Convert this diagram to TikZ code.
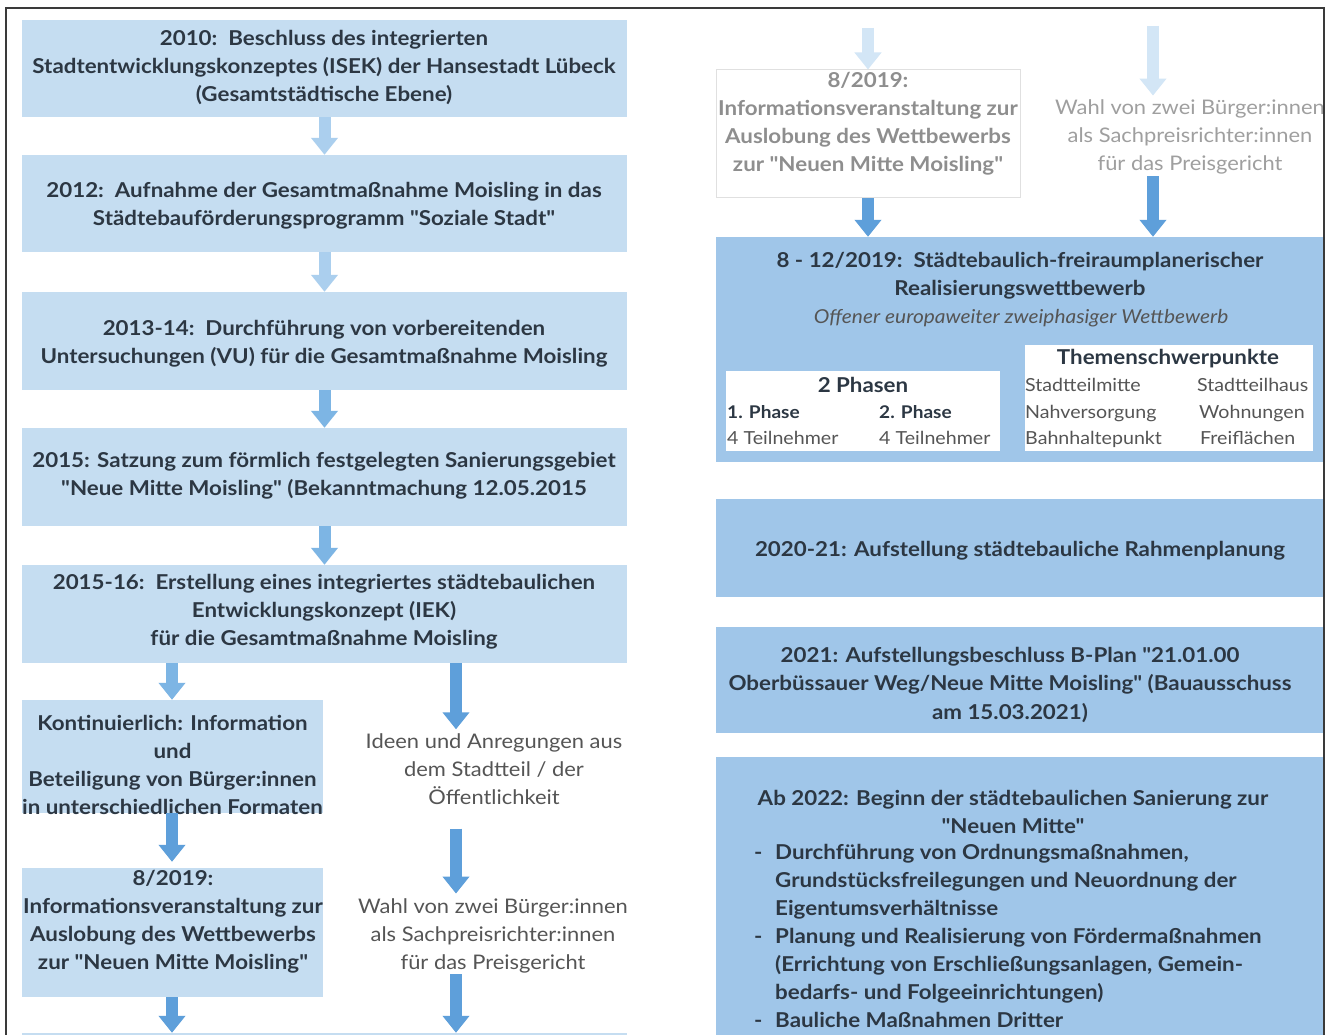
\documentclass[tikz,border=0pt]{standalone}
\usepackage{fontspec}
\setmainfont{Lato}[Ligatures=TeXOff, FakeStretch=1.09]
\usetikzlibrary{arrows.meta}
\definecolor{lboxc}{HTML}{C5DDF1}
\definecolor{rboxc}{HTML}{A0C6E9}
\definecolor{arrL}{HTML}{ABCFEE}
\definecolor{arrM}{HTML}{7DB5E4}
\definecolor{arrD}{HTML}{5E9FDA}
\definecolor{arrF}{HTML}{D3E6F6}
\definecolor{txtc}{HTML}{2C3743}
\definecolor{grayt}{HTML}{555555}
\definecolor{fadet}{HTML}{8E8E8E}
\definecolor{framec}{HTML}{3A3A3A}
\tikzset{
  lbox/.style={fill=lboxc, draw=none, inner sep=0pt},
  rbox/.style={fill=rboxc, draw=none, inner sep=0pt},
  wbox/.style={fill=white, draw=none, inner sep=0pt},
  fbox/.style={fill=white, draw=black!12, line width=1pt, inner sep=0pt},
  bt/.style={font=\fontsize{20.5}{28}\selectfont\bfseries, align=center, text=txtc, inner sep=0pt},
  rt/.style={font=\fontsize{20.1}{28}\selectfont, align=center, text=grayt, inner sep=0pt},
  ft/.style={font=\fontsize{20.5}{28}\selectfont\bfseries, align=center, text=fadet, inner sep=0pt},
  st/.style={font=\fontsize{18}{26}\selectfont, text=grayt, inner sep=0pt, anchor=base west},
  sbt/.style={font=\fontsize{17.5}{26}\selectfont\bfseries, text=txtc, inner sep=0pt, anchor=base west},
  arr/.style={line width=12pt, -{Triangle[width=26pt,length=17pt]}},
}
\begin{document}
\begin{tikzpicture}[x=1pt,y=-1pt]
\useasboundingbox (0,0) rectangle (1326,1035);
\fill[white] (0,0) rectangle (1326,1035);

% ---------- left column boxes ----------
\node[lbox, minimum width=605, minimum height=97] (b1) at (324.5,68.5) {};
\node[lbox, minimum width=605, minimum height=97] (b2) at (324.5,203.5) {};
\node[lbox, minimum width=605, minimum height=98] (b3) at (324.5,341) {};
\node[lbox, minimum width=605, minimum height=98] (b4) at (324.5,477) {};
\node[lbox, minimum width=605, minimum height=98] (b5) at (324.5,614) {};
\node[lbox, minimum width=301, minimum height=113] (b6) at (172.5,756.5) {};
\node[lbox, minimum width=301, minimum height=129] (b7) at (172.5,932.5) {};
\node[lbox, minimum width=605, minimum height=10] (b8) at (324.5,1038) {};

\node[bt] (t1) at (324,68) {2010:\ \ Beschluss des integrierten\\Stadtentwicklungskonzeptes (ISEK) der Hansestadt Lübeck\\(Gesamtstädtische Ebene)};
\node[bt] (t2) at (324,206) {2012:\ \ Aufnahme der Gesamtmaßnahme Moisling in das\\Städtebauförderungsprogramm "Soziale Stadt"};
\node[bt] (t3) at (324,344) {2013-14:\ \ Durchführung von vorbereitenden\\Untersuchungen (VU) für die Gesamtmaßnahme Moisling};
\node[bt] (t4) at (324,476) {2015: Satzung zum förmlich festgelegten Sanierungsgebiet\\"Neue Mitte Moisling" (Bekanntmachung 12.05.2015};
\node[bt] (t5) at (324,612) {2015-16:\ \ Erstellung eines integriertes städtebaulichen\\Entwicklungskonzept (IEK)\\für die Gesamtmaßnahme Moisling};
\node[bt] (t6) at (172.5,765) {Kontinuierlich: Information\\und\\Beteiligung von Bürger:innen\\in unterschiedlichen Formaten};
\node[bt] (t7) at (173,922) {8/2019:\\Informationsveranstaltung zur\\Auslobung des Wettbewerbs\\zur "Neuen Mitte Moisling"};

\node[rt] (ideen) at (494,769) {Ideen und Anregungen aus\\dem Stadtteil / der\\Öffentlichkeit};
\node[rt] (wahl) at (493,936) {Wahl von zwei Bürger:innen\\als Sachpreisrichter:innen\\für das Preisgericht};

\coordinate (xr) at (456,0);
\coordinate (xl) at (172,0);

\draw[arr, arrL] (b1.south) -- (b2.north);
\draw[arr, arrL] (b2.south) -- (b3.north);
\draw[arr, arrM] (b3.south) -- (b4.north);
\draw[arr, arrM] (b4.south) -- (b5.north);
\draw[arr, arrM] (xl |- b5.south) -- (xl |- b6.north);
\draw[arr, arrD] (xr |- b5.south) -- ([yshift=4pt]xr |- ideen.north);
\draw[arr, arrD] (xl |- b6.south) -- ([yshift=6pt]xl |- b7.north);
\draw[arr, arrD] ([yshift=-24pt]xr |- ideen.south) -- ([yshift=5pt]xr |- wahl.north);
\draw[arr, arrD] (xl |- b7.south) -- (xl |- b8.north);
\draw[arr, arrD] ([yshift=-1pt]xr |- wahl.south) -- (xr |- b8.north);

% ---------- right column ----------
\node[fbox, minimum width=304, minimum height=128] (f1) at (868,134) {};
\node[ft] (ft1) at (868,124) {8/2019:\\Informationsveranstaltung zur\\Auslobung des Wettbewerbs\\zur "Neuen Mitte Moisling"};
\node[rt, text=fadet!85] (wahl2) at (1190,137) {Wahl von zwei Bürger:innen\\als Sachpreisrichter:innen\\für das Preisgericht};
\coordinate (fa) at (868,28);
\coordinate (fb) at (1153,26);

\node[rbox, minimum width=607, minimum height=225] (r1) at (1019.5,349.5) {};
\node[rbox, minimum width=607, minimum height=98] (r2) at (1019.5,548) {};
\node[rbox, minimum width=607, minimum height=106] (r3) at (1019.5,680) {};
\node[rbox, minimum width=607, minimum height=290] (r4) at (1019.5,902) {};

\draw[arr, arrF] (fa) -- (f1.north);
\draw[arr, arrF] (fb) -- ([yshift=4pt]fb |- wahl2.north);
\draw[arr, arrD] (f1.south) -- (r1.north -| f1.south);
\draw[arr, arrD] ([yshift=-2pt]fb |- wahl2.south) -- (fb |- r1.north);

\node[bt] (rt1) at (1020,276) {8 - 12/2019:\ \ Städtebaulich-freiraumplanerischer\\Realisierungswettbewerb};
\node[font=\fontsize{19.2}{26}\selectfont\itshape, text=grayt, inner sep=0pt] (rt1i) at (1021,318) {Offener europaweiter zweiphasiger Wettbewerb};

\node[wbox, minimum width=274, minimum height=80] (p1) at (863,411) {};
\node[wbox, minimum width=288, minimum height=106] (p2) at (1169,398) {};

\node[font=\fontsize{20.5}{26}\selectfont\bfseries, text=txtc, inner sep=0pt] (p1h) at (863,385) {2 Phasen};
\node[sbt] (ph1) at (727,418) {1. Phase};
\node[sbt] (ph2) at (879,418) {2. Phase};
\node[st] (tn1) at (727,444) {4 Teilnehmer};
\node[st] (tn2) at (879,444) {4 Teilnehmer};

\node[font=\fontsize{20.5}{26}\selectfont\bfseries, text=txtc, inner sep=0pt] (p2h) at (1168,359) {Themenschwerpunkte};
\node[st] (s1) at (1025,391) {Stadtteilmitte};
\node[st] (s2) at (1197,391) {Stadtteilhaus};
\node[st] (s3) at (1025,418) {Nahversorgung};
\node[st] (s4) at (1199,418) {Wohnungen};
\node[st] (s5) at (1025,444) {Bahnhaltepunkt};
\node[st] (s6) at (1200,444) {Freiflächen};

\node[bt] (rt2) at (1020,551) {2020-21: Aufstellung städtebauliche Rahmenplanung};
\node[bt] (rt3) at (1010,685) {2021: Aufstellungsbeschluss B-Plan "21.01.00\\Oberbüssauer Weg/Neue Mitte Moisling" (Bauausschuss\\am 15.03.2021)};
\node[bt] (rt4) at (1013,812) {Ab 2022: Beginn der städtebaulichen Sanierung zur\\"Neuen Mitte"};
\node[bt, align=left, anchor=west] (rt4l) at (754,936) {\makebox[21pt][l]{-}Durchführung von Ordnungsmaßnahmen,\\\hspace*{21pt}Grundstücksfreilegungen und Neuordnung der\\\hspace*{21pt}Eigentumsverhältnisse\\\makebox[21pt][l]{-}Planung und Realisierung von Fördermaßnahmen\\\hspace*{21pt}(Errichtung von Erschließungsanlagen, Gemein-\\\hspace*{21pt}bedarfs- und Folgeeinrichtungen)\\\makebox[21pt][l]{-}Bauliche Maßnahmen Dritter};

% ---------- frame ----------
\draw[framec, line width=2pt] (6,1036) -- (6,8) -- (1324,8) -- (1324,1036);
\end{tikzpicture}
\end{document}
